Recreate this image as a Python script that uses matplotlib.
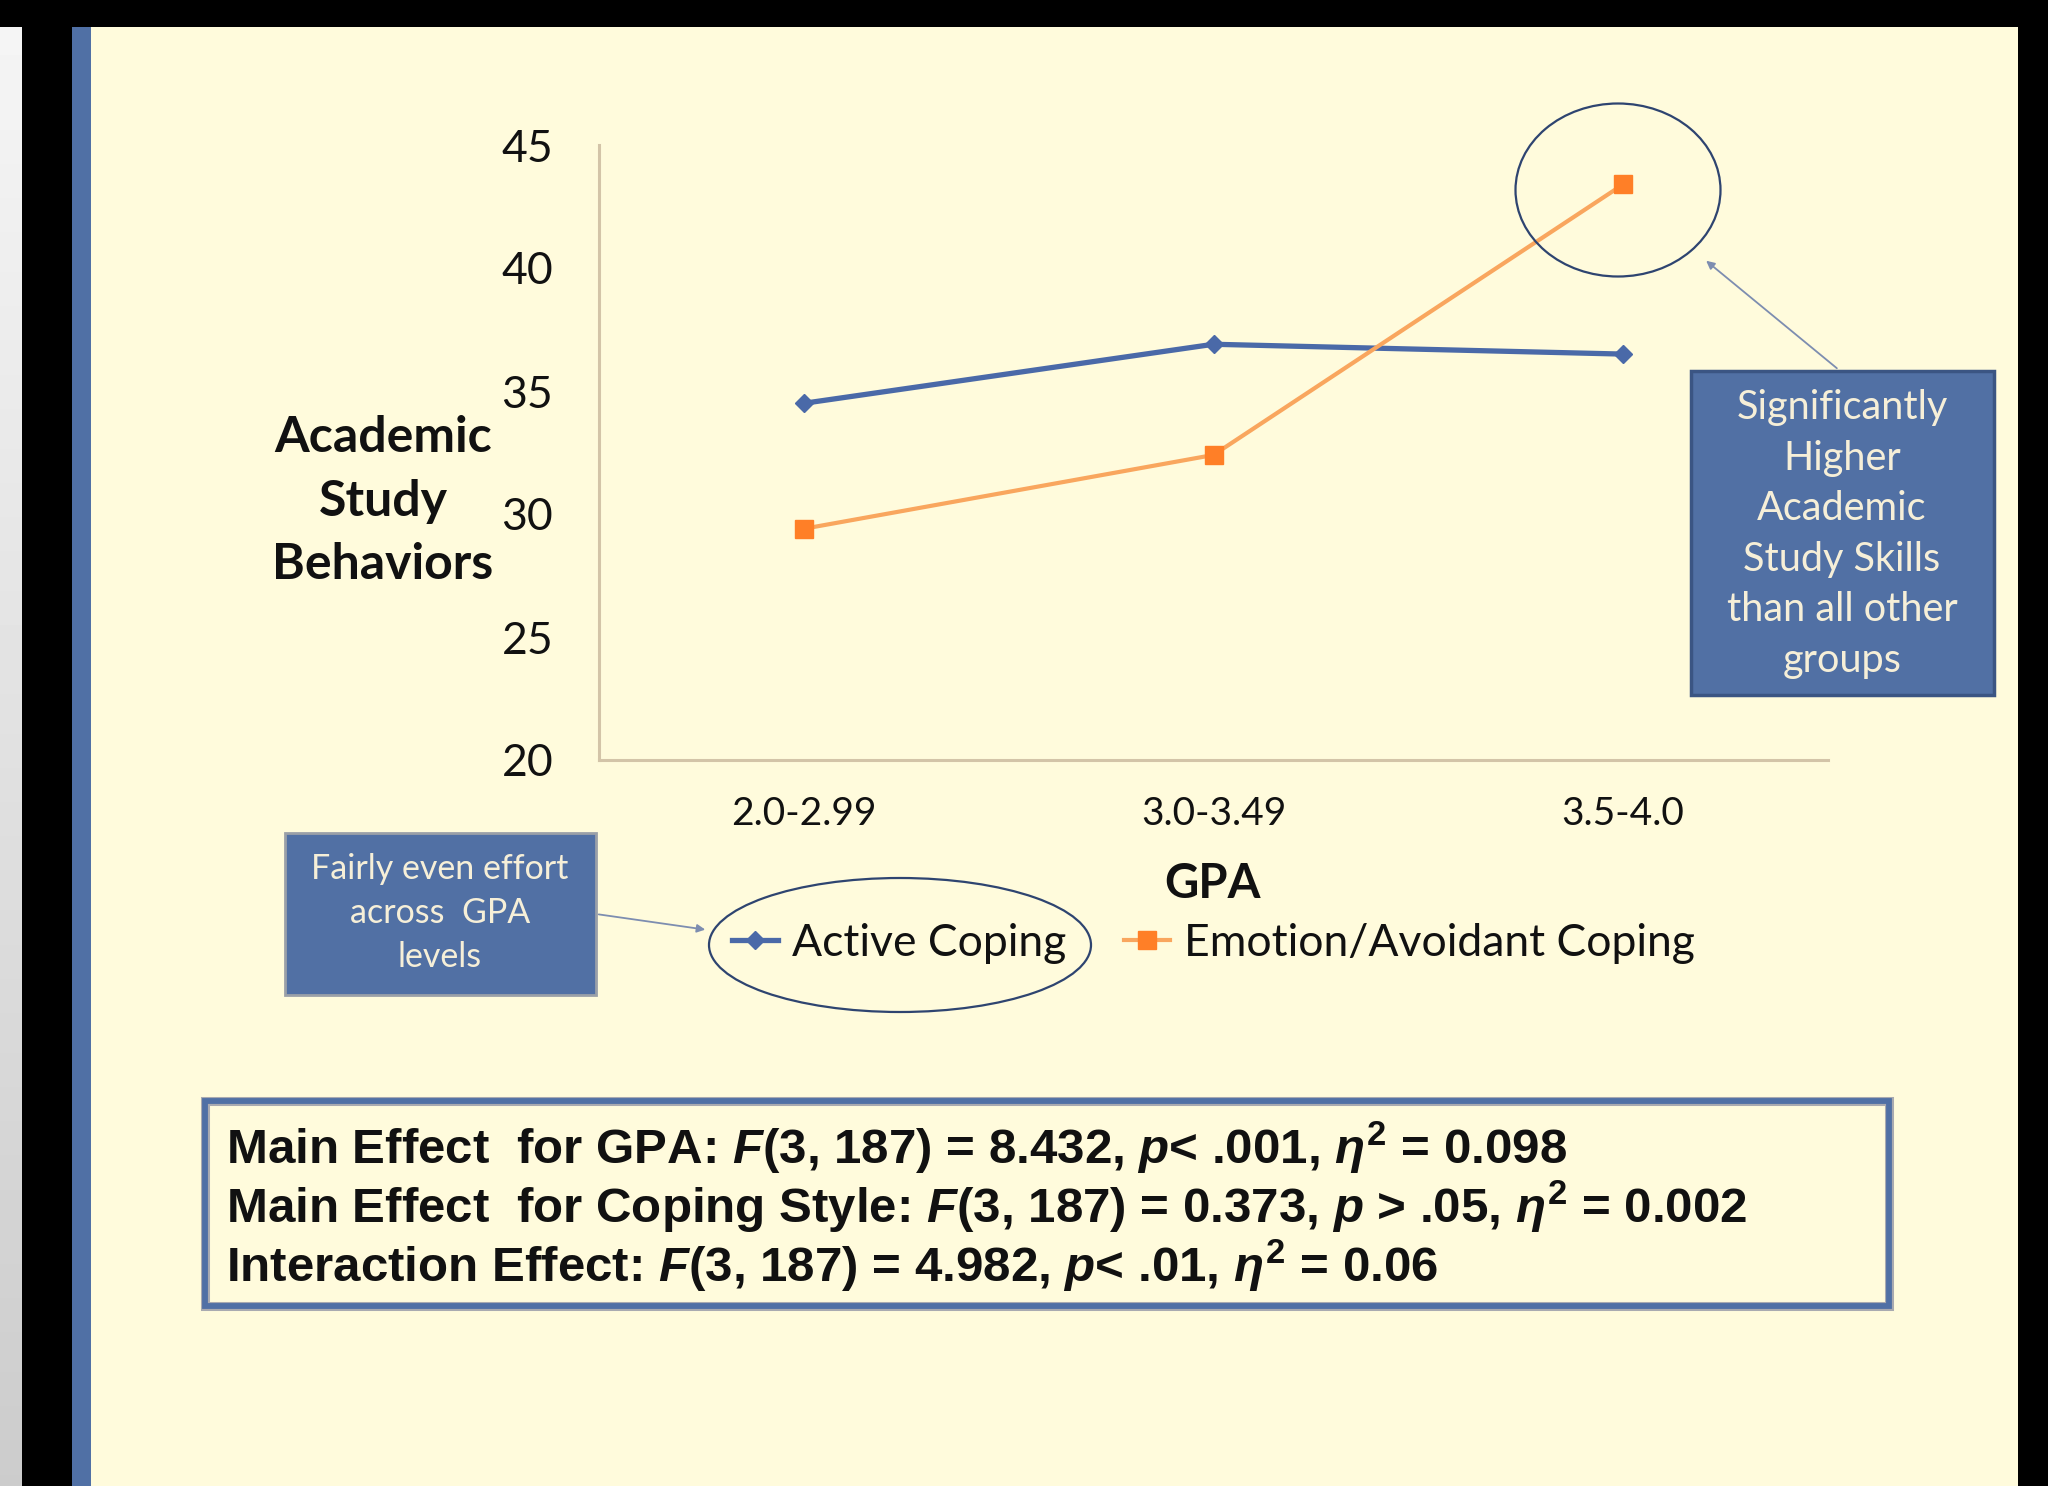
import matplotlib
matplotlib.use('Agg')
import matplotlib.pyplot as plt
from matplotlib.patches import Rectangle, Ellipse, FancyArrowPatch
import numpy as np

# ---------------- data ----------------
categories = ['2.0-2.99', '3.0-3.49', '3.5-4.0']
active_coping = [34.5, 36.9, 36.5]
emotion_avoidant = [29.4, 32.4, 43.4]
y_ticks = [20, 25, 30, 35, 40, 45]
series_labels = ['Active Coping', 'Emotion/Avoidant Coping']
y_label = 'Academic\nStudy\nBehaviors'
x_label = 'GPA'
note_high = 'Significantly\nHigher\nAcademic\nStudy Skills\nthan all other\ngroups'
note_even = 'Fairly even effort\nacross  GPA\nlevels'
stats_lines = [
    r'Main Effect  for GPA: $F$(3, 187) = 8.432, $p$< .001, $\eta^2$ = 0.098',
    r'Main Effect  for Coping Style: $F$(3, 187) = 0.373, $p$ > .05, $\eta^2$ = 0.002',
    r'Interaction Effect: $F$(3, 187) = 4.982, $p$< .01, $\eta^2$ = 0.06',
]

# ---------------- style ----------------
CREAM = '#fffbdc'
BLUE_BAR = '#5070a5'
BOX_BLUE = '#5170a4'
BOX_EDGE = '#3b5583'
LINE_BLUE = '#4a69a8'
LINE_ORANGE = '#f9a65e'
MARK_ORANGE = '#ff7f27'
AXIS_TAN = '#d3c4a8'
NAVY = '#2e4470'
TXT_CREAM = '#f6efd8'

plt.rcParams['mathtext.fontset'] = 'custom'
plt.rcParams['mathtext.rm'] = 'Liberation Sans:bold'
plt.rcParams['mathtext.it'] = 'Liberation Sans:bold:italic'
plt.rcParams['mathtext.bf'] = 'Liberation Sans:bold'

W, H = 2048, 1486
DPI = 100
fig = plt.figure(figsize=(W / DPI, H / DPI), dpi=DPI, facecolor='black')


def fx(x):
    return x / W


def fy(y):
    return 1 - y / H


def frect(x0, y0, x1, y1, **kw):
    r = Rectangle((fx(x0), fy(y1)), (x1 - x0) / W, (y1 - y0) / H,
                  transform=fig.transFigure, **kw)
    fig.add_artist(r)
    return r


# background panels
frect(91, 27, 2018, 1486, facecolor=CREAM, edgecolor='none', zorder=0)
frect(72, 27, 91, 1486, facecolor=BLUE_BAR, edgecolor='none', zorder=0)
gax = fig.add_axes([0, 0, 22 / W, fy(27)])
grad = np.linspace(0.96, 0.80, 256).reshape(-1, 1)
gax.imshow(grad, cmap='gray', vmin=0, vmax=1, aspect='auto')
gax.axis('off')

# ---------------- chart ----------------
ax = fig.add_axes([fx(599), fy(760), (1828 - 599) / W, (760 - 145) / H])
ax.set_facecolor('none')
x = np.arange(len(categories))
ax.plot(x, active_coping, color=LINE_BLUE, lw=3.8, marker='D', ms=9,
        mfc=LINE_BLUE, mec=LINE_BLUE, label=series_labels[0], zorder=3)
ax.plot(x, emotion_avoidant, color=LINE_ORANGE, lw=3.0, marker='s', ms=13,
        mfc=MARK_ORANGE, mec=MARK_ORANGE, label=series_labels[1], zorder=3)
ax.set_xlim(-0.5, 2.5)
ax.set_ylim(20, 45)
ax.set_xticks(x)
ax.set_xticklabels(categories)
ax.set_yticks(y_ticks)
for s in ['top', 'right']:
    ax.spines[s].set_visible(False)
for s in ['left', 'bottom']:
    ax.spines[s].set_color(AXIS_TAN)
    ax.spines[s].set_linewidth(2.2)
ax.tick_params(axis='y', length=0, pad=33, labelsize=32)
ax.tick_params(axis='x', length=0, pad=26, labelsize=28)
for lab in ax.get_xticklabels() + ax.get_yticklabels():
    lab.set_fontfamily('Lato')
    lab.set_color('#111111')

# axis titles
fig.text(fx(383), fy(501), y_label, ha='center', va='center', fontsize=36,
         fontweight='bold', family='Lato', linespacing=1.5, color='#111111')
fig.text(fx(1212), fy(884), x_label, ha='center', va='center', fontsize=34,
         fontweight='bold', family='Lato', color='#111111')

# legend
leg = fig.legend(loc='center', bbox_to_anchor=(fx(1213), fy(943)), ncol=2,
                 frameon=False, prop={'family': 'Lato', 'size': 32},
                 handlelength=1.05, handletextpad=0.3, columnspacing=1.3,
                 borderaxespad=0)
for t in leg.get_texts():
    t.set_color('#111111')

# annotation ellipses
fig.add_artist(Ellipse((fx(1618), fy(190)), 205 / W, 173 / H,
                       transform=fig.transFigure, fill=False, ec=NAVY, lw=1.6, zorder=4))
fig.add_artist(Ellipse((fx(900), fy(945)), 382 / W, 134 / H,
                       transform=fig.transFigure, fill=False, ec=NAVY, lw=1.6, zorder=4))

# note boxes
frect(1691, 371, 1994, 695, facecolor=BOX_BLUE, edgecolor=BOX_EDGE, lw=2.5, zorder=4)
fig.text(fx(1842), fy(534), note_high, ha='center', va='center', fontsize=28.5,
         family='Lato', color=TXT_CREAM, linespacing=1.45, zorder=5)
frect(285, 833, 596, 995, facecolor=BOX_BLUE, edgecolor='#9aa0a8', lw=2.0, zorder=4)
fig.text(fx(440), fy(913), note_even, ha='center', va='center', fontsize=24.5,
         family='Lato', color=TXT_CREAM, linespacing=1.48, zorder=5)

# arrows
fig.add_artist(FancyArrowPatch((fx(1839), fy(370)), (fx(1704), fy(259)),
                               transform=fig.transFigure, arrowstyle='-|>',
                               mutation_scale=12, color='#7d8db0', lw=1.3, zorder=4))
fig.add_artist(FancyArrowPatch((fx(596), fy(914)), (fx(708), fy(930)),
                               transform=fig.transFigure, arrowstyle='-|>',
                               mutation_scale=12, color='#7d8db0', lw=1.3, zorder=4))

# stats box
frect(205, 1101, 1889, 1306, facecolor=CREAM, edgecolor='#a9aab0', lw=6.5, zorder=4)
frect(205, 1101, 1889, 1306, facecolor='none', edgecolor=BLUE_BAR, lw=4.2, zorder=5)
for i, line in enumerate(stats_lines):
    fig.text(fx(226), fy(1148 + 59 * i), line, ha='left', va='center',
             fontsize=35.5, fontweight='bold', family='Liberation Sans',
             color='#111111', zorder=6)

fig.savefig('out.png', dpi=DPI, facecolor=fig.get_facecolor())
